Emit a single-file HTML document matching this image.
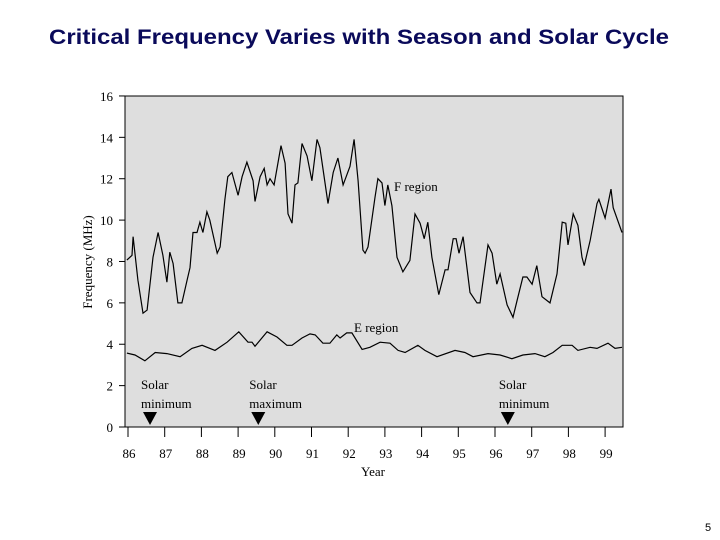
<!DOCTYPE html>
<html><head><meta charset="utf-8"><style>
body{margin:0;background:#fff;width:720px;height:540px;overflow:hidden}
svg{display:block}
.t{font-family:"Liberation Serif",serif;font-size:13px;fill:#000}
</style></head><body>
<svg id="c" width="720" height="540">
<text x="49" y="44" textLength="620" lengthAdjust="spacingAndGlyphs" fill="#0a0a5a" font-family="Liberation Sans, sans-serif" font-weight="bold" font-size="21">Critical Frequency Varies with Season and Solar Cycle</text>
<rect x="125" y="96" width="498" height="331" fill="#dedede" stroke="#000" stroke-width="1"/>
<text class="t" x="0" y="0" transform="translate(92,262) rotate(-90)" text-anchor="middle">Frequency (MHz)</text>
<text class="t" x="373" y="476" text-anchor="middle">Year</text>
<text x="708" y="531" font-family="Liberation Sans, sans-serif" font-size="11" text-anchor="middle">5</text>
<g id="ax"></g><g id="ser"></g><g id="ann"></g>
</svg>
<script>
const yTicks=[0,2,4,6,8,10,12,14,16];
const xTickLabels=["86","87","88","89","90","91","92","93","94","95","96","97","98","99"];
const fYears=[85.97,86.11,86.14,86.27,86.41,86.52,86.68,86.82,86.95,87.06,87.14,87.23,87.36,87.47,87.61,87.69,87.77,87.88,87.96,88.04,88.15,88.23,88.43,88.51,88.64,88.72,88.83,89.00,89.11,89.24,89.41,89.46,89.60,89.71,89.79,89.87,89.98,90.17,90.28,90.36,90.47,90.55,90.63,90.74,90.88,91.01,91.15,91.23,91.45,91.59,91.72,91.86,92.05,92.16,92.27,92.40,92.46,92.54,92.73,92.81,92.92,93.00,93.08,93.19,93.33,93.49,93.68,93.82,93.96,94.07,94.17,94.28,94.47,94.64,94.72,94.86,94.94,95.02,95.13,95.32,95.51,95.59,95.81,95.92,96.05,96.14,96.33,96.49,96.60,96.76,96.87,97.01,97.14,97.28,97.50,97.69,97.83,97.93,97.99,98.13,98.26,98.37,98.43,98.59,98.78,98.83,99.00,99.16,99.22,99.46];
const fValues=[8.07,8.3,9.2,7.1,5.5,5.65,8.2,9.4,8.3,7.0,8.45,7.9,6.0,6.0,7.1,7.7,9.4,9.4,9.9,9.4,10.4,10.0,8.4,8.7,11.0,12.1,12.3,11.2,12.1,12.8,11.9,10.9,12.1,12.5,11.7,12.0,11.7,13.6,12.75,10.3,9.85,11.7,11.8,13.7,13.1,11.9,13.9,13.5,10.8,12.3,13.0,11.7,12.6,13.9,11.9,8.55,8.4,8.7,11.1,12.0,11.8,10.7,11.7,10.7,8.2,7.5,8.05,10.3,9.85,9.1,9.9,8.2,6.4,7.6,7.6,9.1,9.1,8.4,9.2,6.5,6.0,6.0,8.8,8.4,6.9,7.4,5.9,5.3,6.1,7.25,7.25,6.9,7.8,6.3,6.0,7.4,9.9,9.85,8.8,10.3,9.75,8.2,7.8,9.0,10.8,11.0,10.1,11.5,10.6,9.4];
const eYears=[85.97,86.19,86.46,86.74,87.06,87.42,87.74,88.02,88.37,88.70,89.02,89.27,89.38,89.46,89.79,90.06,90.33,90.47,90.74,90.96,91.10,91.31,91.50,91.69,91.78,91.96,92.10,92.38,92.59,92.87,93.14,93.36,93.55,93.90,94.09,94.42,94.91,95.18,95.40,95.81,96.14,96.46,96.76,97.09,97.36,97.58,97.83,98.10,98.26,98.59,98.78,99.08,99.27,99.46];
const eValues=[3.57,3.48,3.2,3.6,3.55,3.4,3.8,3.95,3.7,4.1,4.6,4.1,4.1,3.9,4.6,4.35,3.95,3.95,4.3,4.5,4.45,4.05,4.05,4.45,4.3,4.55,4.55,3.75,3.85,4.1,4.05,3.7,3.6,3.95,3.7,3.4,3.7,3.6,3.4,3.55,3.48,3.3,3.48,3.55,3.4,3.6,3.95,3.95,3.7,3.85,3.8,4.05,3.8,3.85];
const markerYears=[86.6,89.55,96.35];
const markerLabels=["minimum","maximum","minimum"];
const NS="http://www.w3.org/2000/svg";
function X(yr){return 128+(yr-86)*36.7;}
function Y(v){return 427-v*20.69;}
function mk(tag,attrs,parent){const e=document.createElementNS(NS,tag);for(const k in attrs)e.setAttribute(k,attrs[k]);parent.appendChild(e);return e;}
const ax=document.getElementById('ax'),ser=document.getElementById('ser'),ann=document.getElementById('ann');
yTicks.forEach(v=>{
 const l=mk('line',{x1:119,x2:125,y1:Y(v),y2:Y(v),stroke:'#000'},ax);
 
 
 const t=mk('text',{x:113,y:Y(v)+5,'text-anchor':'end','class':'t'},ax);t.textContent=v;
 
 
});
xTickLabels.forEach((s,i)=>{
 const x=X(86+i);
 const l=mk('line',{x1:x,x2:x,y1:427,y2:437,stroke:'#000'},ax);
 
 
 const t=mk('text',{x:x+1,y:458,'text-anchor':'middle','class':'t'},ax);t.textContent=s;
 
 
});
function line(xs,vs,name){
 const p=mk('polyline',{points:xs.map((x,i)=>X(x).toFixed(1)+','+Y(vs[i]).toFixed(1)).join(' '),fill:'none',stroke:'#000','stroke-width':1.2},ser);
 
 
}
line(fYears,fValues,'f-region-line');
line(eYears,eValues,'e-region-line');
let t=mk('text',{x:394,y:191,'class':'t'},ann);t.textContent='F region';


t=mk('text',{x:354,y:332,'class':'t'},ann);t.textContent='E region';


markerYears.forEach((yr,i)=>{
 const x=X(yr);
 const g=mk('g',{},ann);
 
 
 mk('polygon',{points:`${x-7},${412} ${x+7},${412} ${x},${425}`,fill:'#000'},g);
 const a=mk('text',{x:x-9,y:389,'class':'t'},g);a.textContent='Solar';
 const b=mk('text',{x:x-9,y:408,'class':'t'},g);b.textContent=markerLabels[i];
});
</script>
</body></html>
